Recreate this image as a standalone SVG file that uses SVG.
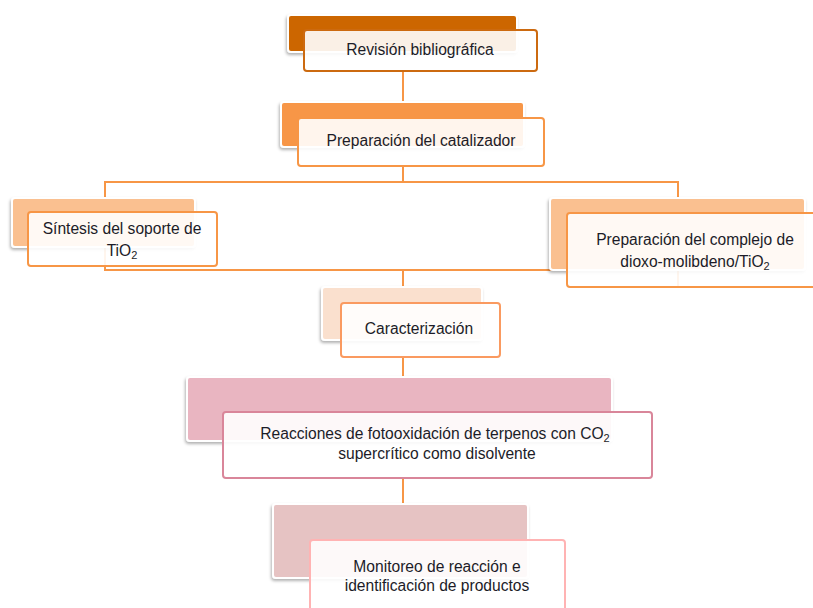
<svg xmlns="http://www.w3.org/2000/svg" width="813" height="608" viewBox="0 0 813 608">
<defs>
<filter id="sh" x="-10%" y="-10%" width="120%" height="130%">
<feDropShadow dx="-1" dy="2" stdDeviation="1.5" flood-color="#000" flood-opacity="0.3"/>
</filter>
</defs>
<style>
.back{stroke:#fff;stroke-width:2;filter:url(#sh)}
.front{fill:#fff;fill-opacity:0.9;stroke-width:2}
.t{font-family:"Liberation Sans",Arial,sans-serif;font-size:15.6px;fill:#1c1c28;text-anchor:middle}
.s{font-size:11px}
.c{stroke:#F79646;stroke-width:2;fill:none}
</style>
<rect width="813" height="608" fill="#fff"/>
<g id="connectors">
<line class="c" x1="403" y1="71" x2="403" y2="102"/>
<line class="c" x1="403" y1="166" x2="403" y2="182"/>
<polyline class="c" points="105,198 105,182 678,182 678,198"/>
<polyline class="c" points="105,247 105,270 678,270 678,287"/>
<line class="c" x1="403" y1="270" x2="403" y2="287"/>
<line class="c" x1="403" y1="357" x2="403" y2="377"/>
<line class="c" x1="403" y1="478" x2="403" y2="504"/>
</g>
<g id="n1">
<rect class="back" x="288" y="15" width="229" height="37" rx="3" fill="#CC6600"/>
<rect class="front" x="304" y="30" width="233" height="41" rx="3" stroke="#CC6A10"/>
<text class="t" x="420" y="55">Revisión bibliográfica</text>
</g>
<g id="n2">
<rect class="back" x="281" y="102" width="243" height="45" rx="3" fill="#F79646"/>
<rect class="front" x="298" y="118" width="246" height="48" rx="3" stroke="#F79646"/>
<text class="t" x="421" y="146">Preparación del catalizador</text>
</g>
<g id="n3">
<rect class="back" x="12" y="198" width="183" height="49" rx="3" fill="#FAC090"/>
<rect class="front" x="28" y="212" width="189" height="54" rx="3" stroke="#F79646"/>
<text class="t" x="122" y="234">Síntesis del soporte de</text>
<text class="t" x="122" y="256">TiO<tspan class="s" dy="3">2</tspan></text>
</g>
<g id="n4">
<rect class="back" x="550" y="198" width="255" height="72" rx="3" fill="#FAC090"/>
<rect class="front" x="567" y="213" width="255" height="74" rx="3" stroke="#F79646"/>
<text class="t" x="695" y="245">Preparación del complejo de</text>
<text class="t" x="695" y="267">dioxo-molibdeno/TiO<tspan class="s" dy="3">2</tspan></text>
</g>
<g id="n5">
<rect class="back" x="322" y="287" width="160" height="53" rx="3" fill="#FAE0CE"/>
<rect class="front" x="341" y="303" width="159" height="54" rx="3" stroke="#FA9A60"/>
<text class="t" x="419" y="334">Caracterización</text>
</g>
<g id="n6">
<rect class="back" x="187" y="377" width="425" height="64" rx="3" fill="#E9B5C1"/>
<rect class="front" x="223" y="412" width="429" height="66" rx="3" stroke="#D9869A"/>
<text class="t" x="435" y="439">Reacciones de fotooxidación de terpenos con CO<tspan class="s" dy="3">2</tspan></text>
<text class="t" x="437" y="459">supercrítico como disolvente</text>
</g>
<g id="n7">
<rect class="back" x="273" y="504" width="255" height="74" rx="3" fill="#E6C3C3"/>
<rect class="front" x="310" y="540" width="255" height="80" rx="3" stroke="#FFB3B3"/>
<text class="t" x="437" y="572">Monitoreo de reacción e</text>
<text class="t" x="437" y="591">identificación de productos</text>
</g>
</svg>
